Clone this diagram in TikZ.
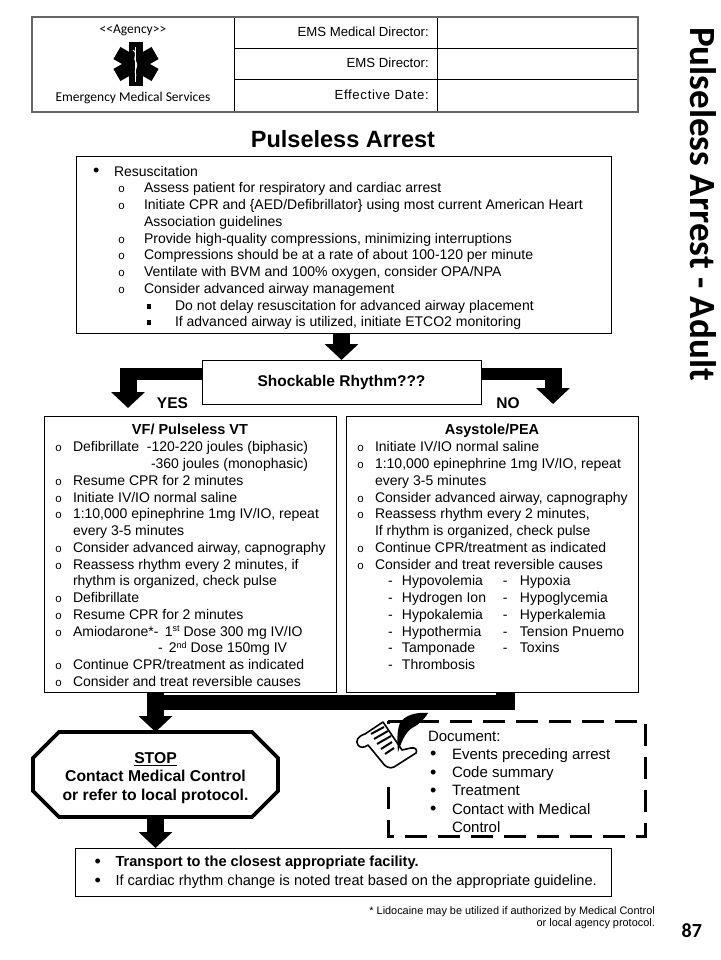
\documentclass[tikz,border=0pt]{standalone}
\usepackage{fontspec}
\setmainfont{Liberation Sans}
\newfontfamily\carlito{Carlito}
\newfontfamily\markfont{Liberation Mono}
\usetikzlibrary{arrows.meta,calc}
\newcommand\Row[4]{\hbox{\vrule width0pt height12pt depth4pt\rlap{\kern#1pt #2}\kern#3pt #4}}
\newcommand\Lines[5]{\vbox to #2pt{\hsize=#1pt\baselineskip=#4pt\lineskiplimit=-100pt\parindent=0pt\hrule height0pt width#1pt\vskip\dimexpr#3pt-12pt\relax #5\vfill}}
\newcommand\mDot{\raisebox{-0.5pt}{\fontsize{18}{18}\selectfont\textbullet}}
\newcommand\mO{\raisebox{0pt}{\markfont\fontsize{11.5}{12}\selectfont o}}
\newcommand\mSq{\rule[1.5pt]{4.3pt}{5pt}}
\newcommand\Sup[1]{\raisebox{4.5pt}{\fontsize{9}{9}\selectfont #1}}
\tikzset{
  x=1pt,y=-1pt,
  flowbox/.style={draw=black,line width=1pt,fill=white,inner sep=0pt,outer sep=0pt,anchor=north west,font=\fontsize{14}{16}\selectfont},
  cellbox/.style={draw=black,line width=1pt,inner sep=0pt,outer sep=0pt,anchor=north west},
  cellframe/.style={draw=black!60,line width=1.6pt},
  celltext/.style={anchor=base east,inner sep=0pt,font=\fontsize{13.2}{15}\selectfont},
  label/.style={inner sep=0pt,anchor=base,font=\bfseries\fontsize{15.5}{18}\selectfont},
  blockarrow/.style={draw=black,line width=17pt,-{Triangle[width=33pt,length=16pt]}},
  blockbar/.style={draw=black,line width=12pt},
}
\begin{document}
\begin{tikzpicture}
\useasboundingbox (0,0) rectangle (720,960);
\fill[white] (0,0) rectangle (720,960);
% header table
\node[cellbox,minimum width=202pt,minimum height=95pt] (agency) at (32,17) {};
\node[cellbox,minimum width=203pt,minimum height=32pt] (h1) at (234,17) {};
\node[cellbox,minimum width=203pt,minimum height=31pt] (h2) at (234,49) {};
\node[cellbox,minimum width=203pt,minimum height=32pt] (h3) at (234,80) {};
\node[cellbox,minimum width=201pt,minimum height=32pt] (v1) at (437,17) {};
\node[cellbox,minimum width=201pt,minimum height=31pt] (v2) at (437,49) {};
\node[cellbox,minimum width=201pt,minimum height=32pt] (v3) at (437,80) {};
\draw[cellframe] (agency.north west) rectangle (v3.south east);
\node[inner sep=0pt,anchor=base,font=\carlito\fontsize{13.5}{15}\selectfont] (agencyname) at (133,34) {<{}<Agency>{}>};
\node[inner sep=0pt,anchor=base,font=\carlito\fontsize{13.5}{15}\selectfont] (ems) at (133,102) {Emergency Medical Services};
\node[celltext] (l1) at (429,37) {EMS Medical Director:};
\node[celltext] (l2) at (429,68) {EMS Director:};
\node[celltext] (l3) at (429,100) {\addfontfeature{LetterSpace=5}Effective Date:};
% star of life
\foreach \a in {0,60,120}{\fill[black,rotate around={\a:(136,64)}] (129,42) rectangle (143,86);}
\draw[white,line width=0.9pt] (135.5,47) -- (135.5,82);
\draw[white,line width=0.9pt] (133,50) .. controls (139,54) and (132,58) .. (136,62) .. controls (139,66) and (133,70) .. (136,76);
% titles
\node[inner sep=0pt,anchor=base,font=\bfseries\fontsize{23.5}{26}\selectfont] (title) at (343,148) {Pulseless Arrest};
\node[inner sep=0pt,anchor=base west,rotate=-90,font=\carlito\bfseries\fontsize{37}{40}\selectfont] (sidetitle) at (690,27) {Pulseless Arrest - Adult};
% resuscitation
\node[flowbox,minimum width=535pt,minimum height=176pt] (resus) at (76,157) {\Lines{535}{176}{19}{16.75}{%
\Row{17}{\mDot}{38}{Resuscitation}
\Row{42}{\mO}{68}{Assess patient for respiratory and cardiac arrest}
\Row{42}{\mO}{68}{Initiate CPR and \{AED/Defibrillator\} using most current American Heart}
\Row{42}{}{68}{Association guidelines}
\Row{42}{\mO}{68}{Provide high-quality compressions, minimizing interruptions}
\Row{42}{\mO}{68}{Compressions should be at a rate of about 100-120 per minute}
\Row{42}{\mO}{68}{Ventilate with BVM and 100\% oxygen, consider OPA/NPA}
\Row{42}{\mO}{68}{Consider advanced airway management}
\Row{71}{\mSq}{99}{Do not delay resuscitation for advanced airway placement}
\Row{71}{\mSq}{99}{If advanced airway is utilized, initiate ETCO2 monitoring}
}};
% decision
\node[flowbox,font=\bfseries\fontsize{15.5}{18}\selectfont,anchor=center,minimum width=279pt,minimum height=44pt] (shock) at (341.5,382) {Shockable Rhythm???};
\node[label] (yes) at (172.5,408) {YES};
\node[label] (no) at (508,408) {NO};
% VF
\node[flowbox,minimum width=292pt,minimum height=276pt] (vf) at (44,416) {\Lines{292}{276}{18}{16.75}{%
\hbox to 292pt{\hfil\vrule width0pt height12pt depth4pt\bfseries\fontsize{14.5}{16}\selectfont VF/ Pulseless VT\hfil}
\vskip1.2pt
\Row{11}{\mO}{29}{\makebox[74pt][l]{Defibrillate}-120-220 joules (biphasic)}
\Row{11}{}{107}{-360 joules (monophasic)}
\Row{11}{\mO}{29}{Resume CPR for 2 minutes}
\Row{11}{\mO}{29}{Initiate IV/IO normal saline}
\Row{11}{\mO}{29}{1:10,000 epinephrine 1mg IV/IO, repeat}
\Row{11}{}{29}{every 3-5 minutes}
\Row{11}{\mO}{29}{Consider advanced airway, capnography}
\Row{11}{\mO}{29}{Reassess rhythm every 2 minutes, if}
\Row{11}{}{29}{rhythm is organized, check pulse}
\Row{11}{\mO}{29}{Defibrillate}
\Row{11}{\mO}{29}{Resume CPR for 2 minutes}
\Row{11}{\mO}{29}{\makebox[81pt][l]{Amiodarone*}-\ \,1\Sup{st} Dose 300 mg IV/IO}
\Row{11}{}{114}{-\ \,2\Sup{nd} Dose 150mg IV}
\Row{11}{\mO}{29}{Continue CPR/treatment as indicated}
\Row{11}{\mO}{29}{Consider and treat reversible causes}
}};
% Asystole
\newcommand\Two[2]{\Row{42}{-}{56}{\rlap{#1}\kern117pt\ifx&#2&\else\rlap{\kern-16pt -}\kern1pt #2\fi}}
\node[flowbox,minimum width=292pt,minimum height=276pt] (asys) at (346,416) {\Lines{292}{276}{18}{16.75}{%
\hbox to 292pt{\hfil\vrule width0pt height12pt depth4pt\bfseries\fontsize{14.5}{16}\selectfont Asystole/PEA\hfil}
\vskip1.2pt
\Row{11}{\mO}{29}{Initiate IV/IO normal saline}
\Row{11}{\mO}{29}{1:10,000 epinephrine 1mg IV/IO, repeat}
\Row{11}{}{29}{every 3-5 minutes}
\Row{11}{\mO}{29}{Consider advanced airway, capnography}
\Row{11}{\mO}{29}{Reassess rhythm every 2 minutes,}
\Row{11}{}{29}{If rhythm is organized, check pulse}
\Row{11}{\mO}{29}{Continue CPR/treatment as indicated}
\Row{11}{\mO}{29}{Consider and treat reversible causes}
\Two{Hypovolemia}{Hypoxia}
\Two{Hydrogen Ion}{Hypoglycemia}
\Two{Hypokalemia}{Hyperkalemia}
\Two{Hypothermia}{Tension Pnuemo}
\Two{Tamponade}{Toxins}
\Two{Thrombosis}{}
}};
% stop
\node[inner sep=0pt,outer sep=0pt,minimum width=245pt,minimum height=85pt,align=center,font=\bfseries\fontsize{15.7}{18.5}\selectfont] (stop) at (155.5,774.5) {\rule{0pt}{18pt}\underline{STOP}\\Contact Medical Control\\or refer to local protocol.};
\draw[black,line width=3.6pt,line join=miter] ($(stop.north west)+(26,0)$) -- ($(stop.north east)+(-26,0)$) -- ($(stop.north east)+(0,26)$) -- ($(stop.south east)+(0,-26)$) -- ($(stop.south east)+(-26,0)$) -- ($(stop.south west)+(26,0)$) -- ($(stop.south west)+(0,-26)$) -- ($(stop.north west)+(0,26)$) -- cycle;
% document
\node[flowbox,draw=none,fill=none,minimum width=257pt,minimum height=115pt,font=\fontsize{15}{18}\selectfont] (docbox) at (388,721) {\Lines{257}{115}{20}{18.3}{%
\hbox{\vrule width0pt height12pt depth4pt\kern40pt Document:}
\Row{42}{\mDot}{64}{Events preceding arrest}
\Row{42}{\mDot}{64}{Code summary}
\Row{42}{\mDot}{64}{Treatment}
\Row{42}{\mDot}{64}{Contact with Medical}
\Row{42}{}{64}{Control}
}};
\draw[black,line width=3pt,dash pattern=on 22pt off 11pt] (docbox.north west) rectangle (docbox.south east);
% scroll
\fill[white] (385,724) rectangle (392,776);
\filldraw[fill=white,draw=black,line width=1.6pt,line join=round] (383,722) -- (365,734) .. controls (358,736) and (355,741) .. (358,745) .. controls (360,748) and (364,748) .. (368,745) -- (382,762) .. controls (385,767) and (390,769) .. (394,767) -- (416,753) .. controls (418,750) and (415,747) .. (411,748) -- (402,750) -- cycle;
\draw[black,line width=2pt] (371,734)--(384,727) (374,739)--(388,731) (377,744)--(391,736) (381,749)--(392,742) (385,754)--(394,748);
\fill[black] (428,713) .. controls (416,712) and (405,715) .. (400,723) .. controls (397,730) and (397,740) .. (398,752) .. controls (402,740) and (406,732) .. (412,728) .. controls (418,725) and (424,720) .. (428,713) -- cycle;
% transport
\node[flowbox,minimum width=536pt,minimum height=48pt,font=\fontsize{14.6}{16}\selectfont] (transport) at (75.5,848) {\Lines{536}{48}{18.5}{19}{%
\Row{19}{\mDot}{40}{\bfseries Transport to the closest appropriate facility.}
\Row{19}{\mDot}{40}{If cardiac rhythm change is noted treat based on the appropriate guideline.}
}};
% footnotes
\node[inner sep=0pt,anchor=base east,font=\fontsize{10.9}{12}\selectfont] (foot1) at (655,914) {* Lidocaine may be utilized if authorized by Medical Control};
\node[inner sep=0pt,anchor=base east,font=\fontsize{10.9}{12}\selectfont] (foot2) at (655,926) {or local agency protocol.};
\node[inner sep=0pt,anchor=base west,font=\carlito\bfseries\fontsize{20}{22}\selectfont] (page) at (681.5,937) {87};
% connectors
\draw[blockarrow] (shock.north |- resus.south) -- (shock.north);
\coordinate (yesTip) at (128,408);
\coordinate (noTip) at (553,404);
\draw[blockbar] ($(shock.west)+(0,-8)$) -- ($(shock.west)+(0,-8)+(-82,0)$);
\draw[blockarrow] ($(yesTip |- shock.north)+(0,8)$) -- (yesTip);
\draw[blockbar] ($(shock.east)+(0,-8)$) -- ($(noTip |- shock.east)+(8.5,-8)$);
\draw[blockarrow] ($(noTip |- shock.north)+(0,8)$) -- (noTip);
\coordinate (merge) at ($(stop.north |- vf.south)+(0,10.5)$);
\draw[black,line width=19pt] ($(asys.south)+(13.5,0)$) -- ($(asys.south)+(13.5,3)$);
\draw[black,line width=15pt] ($(merge)+(0,0)$) -- ($(asys.south)+(23,10.5)$);
\draw[blockarrow] (vf.south -| stop.north) -- (stop.north);
\draw[blockarrow] (stop.south) -- (transport.north -| stop.south);
\end{tikzpicture}
\end{document}
